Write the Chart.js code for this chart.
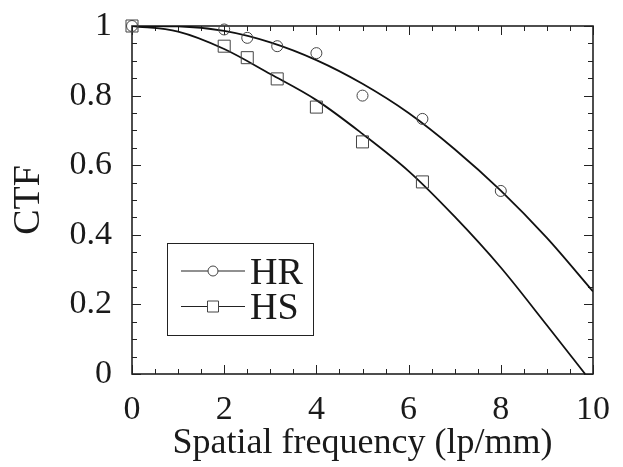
<!DOCTYPE html>
<html>
<head>
<meta charset="utf-8">
<script src="https://cdn.jsdelivr.net/npm/chart.js@4/dist/chart.umd.min.js"></script>
<style>
body{margin:0;background:#fff}
canvas{display:block}
</style>
</head>
<body>
<canvas id="ctf" width="623" height="467"></canvas>
<script>

let freq = [0, 2, 2.5, 3.15, 4, 5, 6.3, 8]
let hr = [1, 0.99, 0.966, 0.942, 0.922, 0.80, 0.733, 0.526]

let freqHs = [0, 2, 2.5, 3.15, 4, 5, 6.3]
let hs = [1, 0.942, 0.909, 0.848, 0.767, 0.667, 0.552]

let fitFreq = [0, 1, 2, 3, 4, 5, 6, 7, 8, 9, 10]
let hrFit = [1, 0.999, 0.986, 0.953, 0.902, 0.834, 0.750, 0.646, 0.527, 0.391, 0.237]

let fitFreqHs = [0, 1, 2, 3, 4, 5, 6, 7, 8, 9, 9.83]
let hsFit = [1, 0.984, 0.934, 0.862, 0.787, 0.69, 0.583, 0.452, 0.306, 0.14, 0]

let xTicks = [0, 2, 4, 6, 8, 10]
let yTicks = [0, 0.2, 0.4, 0.6, 0.8, 1]

let serif = "'Liberation Serif', 'Times New Roman', serif"
let ink = "#1a1a1a"

function pts(xs, ys){
  return xs.map((x,i)=>({x:x, y:ys[i]}))
}

// box round the plot with inward ticks on all four sides
let frame = {
  id:"frame",
  beforeDatasetsDraw(chart){
    let {ctx, chartArea:a, scales:{x, y}} = chart
    ctx.save()
    ctx.strokeStyle = "#222"
    ctx.lineWidth = 1
    let xStep = (xTicks[1]-xTicks[0]) / 4
    for(let v = x.min, i = 0; v <= x.max + 1e-9; v += xStep, i++){
      let px = Math.round(x.getPixelForValue(v)) + 0.5
      let len = i % 4 == 0 ? 9 : 5
      ctx.beginPath()
      ctx.moveTo(px, a.bottom); ctx.lineTo(px, a.bottom - len)
      ctx.moveTo(px, a.top); ctx.lineTo(px, a.top + len)
      ctx.stroke()
    }
    let yStep = (yTicks[1]-yTicks[0]) / 4
    for(let v = y.min, i = 0; v <= y.max + 1e-9; v += yStep, i++){
      let py = Math.round(y.getPixelForValue(v)) + 0.5
      let len = i % 4 == 0 ? 9 : 5
      ctx.beginPath()
      ctx.moveTo(a.left, py); ctx.lineTo(a.left + len, py)
      ctx.moveTo(a.right, py); ctx.lineTo(a.right - len, py)
      ctx.stroke()
    }
    ctx.lineWidth = 1.6
    ctx.strokeRect(a.left, a.top, a.right - a.left, a.bottom - a.top)
    ctx.restore()
  }
}

// legend with the line running through the marker, inside a box
let legendBox = {
  id:"legendBox",
  afterDraw(chart){
    let {ctx, chartArea:a} = chart
    let left = a.left + 35, top = a.top + 217
    ctx.save()
    ctx.strokeStyle = "#222"
    ctx.lineWidth = 1
    ctx.strokeRect(left + 0.5, top + 0.5, 146, 92)
    let rows = [chart.data.datasets[0], chart.data.datasets[1]]
    rows.forEach((ds,i)=>{
      let cy = top + 28 + i*35.5
      ctx.strokeStyle = "#222"
      ctx.lineWidth = 1.2
      ctx.beginPath()
      ctx.moveTo(left + 14, cy); ctx.lineTo(left + 78, cy)
      ctx.stroke()
      ctx.fillStyle = "#fff"
      ctx.strokeStyle = "#444"
      ctx.lineWidth = 1
      ctx.beginPath()
      if(ds.pointStyle == "circle"){
        ctx.arc(left + 46, cy, 5, 0, Math.PI*2)
      } else {
        ctx.rect(left + 40.5, cy - 5.5, 11, 11)
      }
      ctx.fill()
      ctx.stroke()
      ctx.fillStyle = ink
      ctx.font = "38px " + serif
      ctx.textBaseline = "alphabetic"
      ctx.fillText(ds.label, left + 83, cy + 12.5)
    })
    ctx.restore()
  }
}

new Chart(document.getElementById("ctf"),{
  type:"scatter",
  data:{
    datasets:[
      {
        label:"HR",
        data:pts(freq, hr),
        pointStyle:"circle",
        pointRadius:5.5,
        pointBorderWidth:1,
        pointBorderColor:"#444",
        pointBackgroundColor:"rgba(0,0,0,0)",
        clip:false
      },
      {
        label:"HS",
        data:pts(freqHs, hs),
        pointStyle:"rect",
        pointRadius:8.5,
        pointBorderWidth:1,
        pointBorderColor:"#444",
        pointBackgroundColor:"rgba(0,0,0,0)",
        clip:false
      },
      {
        label:"HR fit",
        data:pts(fitFreq, hrFit),
        showLine:true,
        cubicInterpolationMode:"monotone",
        pointRadius:0,
        borderColor:"#111",
        borderWidth:1.8
      },
      {
        label:"HS fit",
        data:pts(fitFreqHs, hsFit),
        showLine:true,
        cubicInterpolationMode:"monotone",
        pointRadius:0,
        borderColor:"#111",
        borderWidth:1.8
      }
    ]
  },
  options:{
    responsive:false,
    animation:false,
    layout:{padding:{left:0, top:26, right:30, bottom:0}},
    plugins:{legend:{display:false}, tooltip:{enabled:false}},
    scales:{
      x:{
        type:"linear",
        min:xTicks[0],
        max:xTicks[xTicks.length-1],
        afterBuildTicks:s=>{ s.ticks = xTicks.map(v=>({value:v})) },
        afterFit:s=>{ s.height = 93; s.paddingLeft = 0; s.paddingRight = 0 },
        grid:{display:false, drawTicks:false},
        border:{display:false},
        ticks:{color:ink, padding:16, callback:v=>String(v), font:{family:serif, size:34, lineHeight:1.2}},
        title:{display:true, text:"Spatial frequency (lp/mm)", color:ink, padding:{top:0, bottom:2}, font:{family:serif, size:36, lineHeight:1.2}}
      },
      y:{
        min:yTicks[0],
        max:yTicks[yTicks.length-1],
        afterBuildTicks:s=>{ s.ticks = yTicks.map(v=>({value:v})) },
        afterFit:s=>{ s.width = 132; s.paddingTop = 0; s.paddingBottom = 0 },
        grid:{display:false, drawTicks:false},
        border:{display:false},
        ticks:{color:ink, padding:20, callback:v=>String(v), font:{family:serif, size:34, lineHeight:1.2}},
        title:{display:true, text:"CTF", color:ink, padding:{top:6, bottom:0}, font:{family:serif, size:38, lineHeight:1.2}}
      }
    }
  },
  plugins:[frame, legendBox]
})

</script>
</body>
</html>
